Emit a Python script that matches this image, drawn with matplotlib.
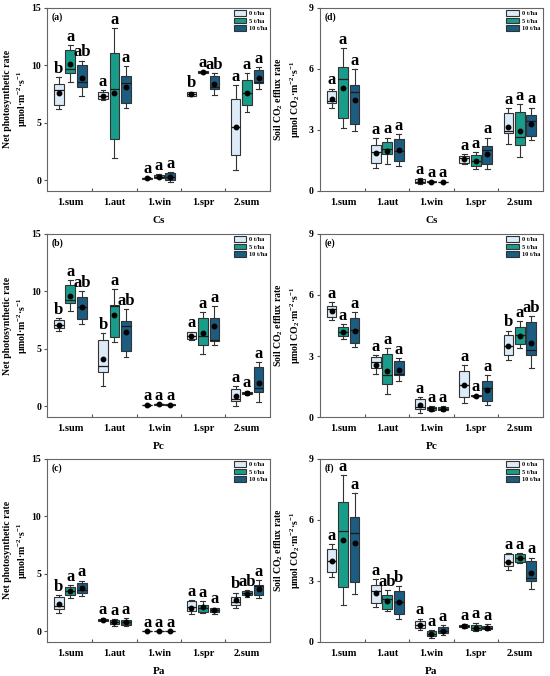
import matplotlib

matplotlib.use("Agg")
import matplotlib.pyplot as plt
from matplotlib.patches import Patch

plt.rcParams["font.family"] = ["Liberation Serif", "DejaVu Serif"]
plt.rcParams["font.weight"] = "bold"
plt.rcParams["mathtext.fontset"] = "custom"
plt.rcParams["mathtext.rm"] = "Liberation Serif:bold"
plt.rcParams["mathtext.it"] = "Liberation Serif:bold"
plt.rcParams["mathtext.bf"] = "Liberation Serif:bold"

SEASONS = ["1.sum", "1.aut", "1.win", "1.spr", "2.sum"]
RATES = ["0 t/ha", "5 t/ha", "10 t/ha"]
COLORS = ["#dcebf7", "#1a9c8a", "#1b5c80"]

# rows: whislo, q1, med, q3, whishi, mean ; 3 boxes (0, 5, 10 t/ha) per season
CS_PN = [
    [6.2, 6.55, 7.85, 8.35, 8.95, 7.55], [8.5, 9.3, 9.7, 11.35, 11.75, 10.1], [7.35, 8.1, 8.55, 10.05, 10.4, 8.9],
    [7.0, 7.1, 7.35, 7.7, 7.8, 7.35], [1.9, 3.6, 7.95, 11.1, 13.2, 7.55], [6.3, 6.75, 8.45, 9.1, 9.9, 8.1],
    [0.05, 0.1, 0.15, 0.2, 0.25, 0.15], [0.15, 0.2, 0.3, 0.45, 0.55, 0.3], [-0.15, 0.0, 0.3, 0.6, 0.7, 0.25],
    [7.3, 7.35, 7.5, 7.65, 7.7, 7.5], [9.3, 9.33, 9.4, 9.47, 9.5, 9.4], [7.4, 7.9, 8.1, 9.05, 9.3, 8.35],
    [0.85, 2.15, 4.6, 7.1, 8.3, 4.6], [5.95, 6.5, 7.6, 8.75, 9.3, 7.6], [7.9, 8.45, 8.55, 9.6, 9.85, 8.9],
]
CS_PN_LETTERS = ["b", "a", "ab", "a", "a", "a", "a", "a", "a", "b", "a", "ab", "a", "a", "a"]

PC_PN = [
    [6.53, 6.82, 7.11, 7.46, 7.67, 7.1], [8.28, 8.98, 9.27, 10.58, 10.96, 9.59], [7.17, 7.61, 8.63, 9.5, 10.03, 8.63],
    [1.78, 2.94, 3.53, 5.8, 6.38, 4.11], [5.57, 6.06, 8.75, 8.83, 10.23, 7.9], [4.26, 4.84, 6.94, 7.41, 8.48, 6.44],
    [0.05, 0.08, 0.1, 0.12, 0.15, 0.1], [0.1, 0.13, 0.15, 0.18, 0.2, 0.15], [0.08, 0.11, 0.14, 0.17, 0.2, 0.14],
    [5.75, 5.85, 6.15, 6.45, 6.5, 6.15], [4.55, 5.3, 6.1, 7.7, 8.2, 6.35], [5.35, 5.7, 5.75, 7.65, 8.75, 7.0],
    [0.0, 0.45, 0.6, 1.5, 1.75, 0.85], [0.95, 1.05, 1.15, 1.25, 1.3, 1.15], [0.35, 1.25, 1.6, 3.4, 3.85, 2.05],
]
PC_PN_LETTERS = ["b", "a", "ab", "b", "a", "ab", "a", "a", "a", "a", "a", "a", "a", "a", "a"]

PA_PN = [
    [1.6, 1.95, 2.15, 2.95, 3.15, 2.35], [2.9, 3.15, 3.5, 3.85, 4.0, 3.45], [3.05, 3.35, 3.6, 4.2, 4.4, 3.75],
    [0.85, 0.9, 1.0, 1.05, 1.1, 0.97], [0.45, 0.6, 0.8, 0.95, 1.05, 0.75], [0.45, 0.55, 0.8, 1.0, 1.15, 0.8],
    [0.0, 0.0, 0.0, 0.02, 0.03, 0.01], [0.0, 0.0, 0.0, 0.02, 0.03, 0.01], [0.0, 0.0, 0.0, 0.02, 0.03, 0.01],
    [1.45, 1.75, 2.1, 2.6, 2.7, 2.05], [1.55, 1.7, 2.0, 2.3, 2.6, 2.1], [1.5, 1.65, 1.8, 2.0, 2.05, 1.85],
    [2.05, 2.25, 2.5, 2.95, 3.35, 2.7], [2.95, 3.1, 3.3, 3.5, 3.6, 3.25], [2.85, 3.15, 3.95, 4.0, 4.45, 3.65],
]
PA_PN_LETTERS = ["b", "a", "a", "a", "a", "a", "a", "a", "a", "a", "a", "a", "b", "ab", "a"]

CS_RS = [
    [4.07, 4.34, 4.43, 4.92, 5.03, 4.54], [3.1, 3.6, 5.52, 6.07, 7.0, 5.08], [2.95, 3.31, 4.87, 5.21, 5.98, 4.48],
    [1.11, 1.36, 1.92, 2.28, 2.59, 1.85], [1.34, 1.8, 2.05, 2.41, 2.62, 1.97], [1.23, 1.48, 1.97, 2.54, 2.79, 2.0],
    [0.34, 0.38, 0.46, 0.59, 0.62, 0.49], [0.42, 0.43, 0.45, 0.47, 0.48, 0.45], [0.41, 0.42, 0.44, 0.46, 0.47, 0.44],
    [1.33, 1.39, 1.6, 1.72, 1.82, 1.56], [1.07, 1.23, 1.49, 1.77, 1.92, 1.49], [1.07, 1.31, 2.02, 2.23, 2.62, 1.82],
    [2.3, 2.84, 2.95, 3.82, 4.07, 3.16], [1.66, 2.26, 2.67, 3.9, 4.26, 2.95], [2.5, 2.7, 3.44, 3.74, 4.1, 3.3],
]
CS_RS_LETTERS = ["a"] * 15

PC_RS = [
    [4.75, 4.9, 5.3, 5.45, 5.65, 5.2], [3.85, 4.0, 4.2, 4.45, 4.55, 4.2], [3.45, 3.65, 4.3, 4.85, 5.15, 4.25],
    [2.1, 2.4, 2.7, 2.95, 3.05, 2.55], [1.15, 1.65, 2.05, 3.1, 3.4, 2.25], [1.75, 2.05, 2.1, 2.75, 2.9, 2.3],
    [0.2, 0.4, 0.5, 0.9, 1.0, 0.6], [0.3, 0.35, 0.45, 0.5, 0.55, 0.42], [0.28, 0.33, 0.42, 0.5, 0.55, 0.4],
    [0.7, 1.0, 1.6, 2.25, 2.55, 1.6], [1.0, 1.02, 1.05, 1.08, 1.1, 1.05], [0.6, 0.8, 1.45, 1.75, 2.05, 1.35],
    [2.8, 3.05, 3.5, 4.05, 4.25, 3.5], [3.4, 3.6, 4.05, 4.45, 4.7, 4.0], [2.4, 3.05, 3.3, 4.65, 4.95, 3.65],
]
PC_RS_LETTERS = ["a", "a", "a", "a", "a", "a", "a", "a", "a", "a", "a", "a", "b", "a", "ab"]

PA_RS = [
    [3.2, 3.45, 4.0, 4.55, 4.8, 4.0], [1.8, 2.7, 5.45, 6.9, 8.2, 5.0], [2.35, 2.97, 5.35, 6.15, 7.3, 4.85],
    [1.7, 1.9, 2.5, 2.8, 3.1, 2.4], [1.5, 1.6, 2.1, 2.3, 2.55, 2.0], [1.15, 1.4, 1.95, 2.5, 2.75, 1.95],
    [0.6, 0.7, 0.85, 1.05, 1.15, 0.85], [0.22, 0.3, 0.4, 0.55, 0.6, 0.4], [0.35, 0.45, 0.55, 0.75, 0.85, 0.55],
    [0.7, 0.73, 0.8, 0.85, 0.88, 0.78], [0.55, 0.6, 0.7, 0.85, 0.95, 0.7], [0.58, 0.62, 0.7, 0.8, 0.88, 0.7],
    [3.55, 3.75, 3.95, 4.3, 4.35, 3.95], [3.9, 3.95, 4.15, 4.3, 4.35, 4.15], [2.6, 3.0, 3.15, 4.0, 4.15, 3.4],
]
PA_RS_LETTERS = ["a", "a", "a", "a", "ab", "b", "a", "a", "a", "a", "a", "a", "a", "a", "a"]

PN_LABEL = "Net photosynthetic rate\nμmol·m$^{-2}$·s$^{-1}$"
RS_LABEL = "Soil CO$_2$ efflux rate\nμmol CO$_2$·m$^{-2}$·s$^{-1}$"

OFFSET = 0.26
BOX_W = 0.22
EDGE = "#333333"


def draw_panel(fig, rect, rows, letters, tag, species, ylabel, ylim, yticks):
    ax = fig.add_axes(rect)
    stats, positions, colors = [], [], []
    for i, row in enumerate(rows):
        g, t = divmod(i, 3)
        lo, q1, med, q3, hi, mean = row
        stats.append(dict(whislo=lo, q1=q1, med=med, q3=q3, whishi=hi, mean=mean, fliers=[]))
        positions.append(g + (t - 1) * OFFSET)
        colors.append(COLORS[t])
    bp = ax.bxp(
        stats, positions=positions, widths=BOX_W, capwidths=BOX_W * 0.5, patch_artist=True, showmeans=True,
        boxprops=dict(edgecolor=EDGE, linewidth=0.8),
        whiskerprops=dict(color=EDGE, linewidth=0.8),
        capprops=dict(color=EDGE, linewidth=0.8),
        medianprops=dict(color="#1a1a1a", linewidth=0.9),
        meanprops=dict(marker="o", markerfacecolor="black", markeredgecolor="black", markersize=3.2),
    )
    for patch, c in zip(bp["boxes"], colors):
        patch.set_facecolor(c)
    for pos, s, letter in zip(positions, stats, letters):
        ax.annotate(letter, (pos, s["whishi"]), xytext=(0, 3), textcoords="offset points",
                    ha="center", va="baseline", fontsize=12, fontweight="bold")

    ax.set_xlim(-0.52, 4.52)
    ax.set_ylim(*ylim)
    ax.set_yticks(yticks)
    ax.set_xticks(range(len(SEASONS)))
    ax.set_xticklabels(SEASONS)
    ax.set_xticks([0.5, 1.5, 2.5, 3.5], minor=True)
    ax.tick_params(axis="x", which="major", length=0, labelsize=7.5, pad=5)
    ax.tick_params(axis="x", which="minor", direction="in", length=2.5, width=0.8, color="#555555")
    ax.tick_params(axis="y", direction="out", length=2.5, width=0.8, labelsize=7, pad=2, color="#555555")
    for sp in ax.spines.values():
        sp.set_color("#666666")
        sp.set_linewidth(0.8)
    ax.set_xlabel(species, fontsize=8, fontweight="bold", va="top")
    ax.xaxis.set_label_coords(0.5, -0.135)
    ax.set_ylabel(ylabel, fontsize=7, fontweight="bold", linespacing=1.3)
    ax.yaxis.set_label_coords(-0.078, 0.5)
    ax.text(0.02, 0.975, tag, transform=ax.transAxes, ha="left", va="top", fontsize=7, fontweight="bold")

    handles = [Patch(facecolor=c, edgecolor=EDGE, linewidth=0.8) for c in COLORS]
    ax.legend(handles, RATES, loc="upper right", frameon=False, prop=dict(size=4.5, weight="bold"),
              handlelength=2.0, handleheight=1.0, labelspacing=0.25, handletextpad=0.5,
              borderaxespad=0.2, borderpad=0.2)
    return ax


fig = plt.figure(figsize=(5.5, 6.76), dpi=100)
left_x, right_x, w, h = 0.086, 0.582, 0.405, 0.271
rows_y = [0.7175, 0.383, 0.0503]

draw_panel(fig, [left_x, rows_y[0], w, h], CS_PN, CS_PN_LETTERS, "(a)", "Cs", PN_LABEL, (-0.95, 15), [0, 5, 10, 15])
draw_panel(fig, [left_x, rows_y[1], w, h], PC_PN, PC_PN_LETTERS, "(b)", "Pc", PN_LABEL, (-0.95, 15), [0, 5, 10, 15])
draw_panel(fig, [left_x, rows_y[2], w, h], PA_PN, PA_PN_LETTERS, "(c)", "Pa", PN_LABEL, (-0.95, 15), [0, 5, 10, 15])
draw_panel(fig, [right_x, rows_y[0], w, h], CS_RS, CS_RS_LETTERS, "(d)", "Cs", RS_LABEL, (0, 9), [0, 3, 6, 9])
draw_panel(fig, [right_x, rows_y[1], w, h], PC_RS, PC_RS_LETTERS, "(e)", "Pc", RS_LABEL, (0, 9), [0, 3, 6, 9])
draw_panel(fig, [right_x, rows_y[2], w, h], PA_RS, PA_RS_LETTERS, "(f)", "Pa", RS_LABEL, (0, 9), [0, 3, 6, 9])

fig.savefig("out.png", dpi=100)
plt.close(fig)
